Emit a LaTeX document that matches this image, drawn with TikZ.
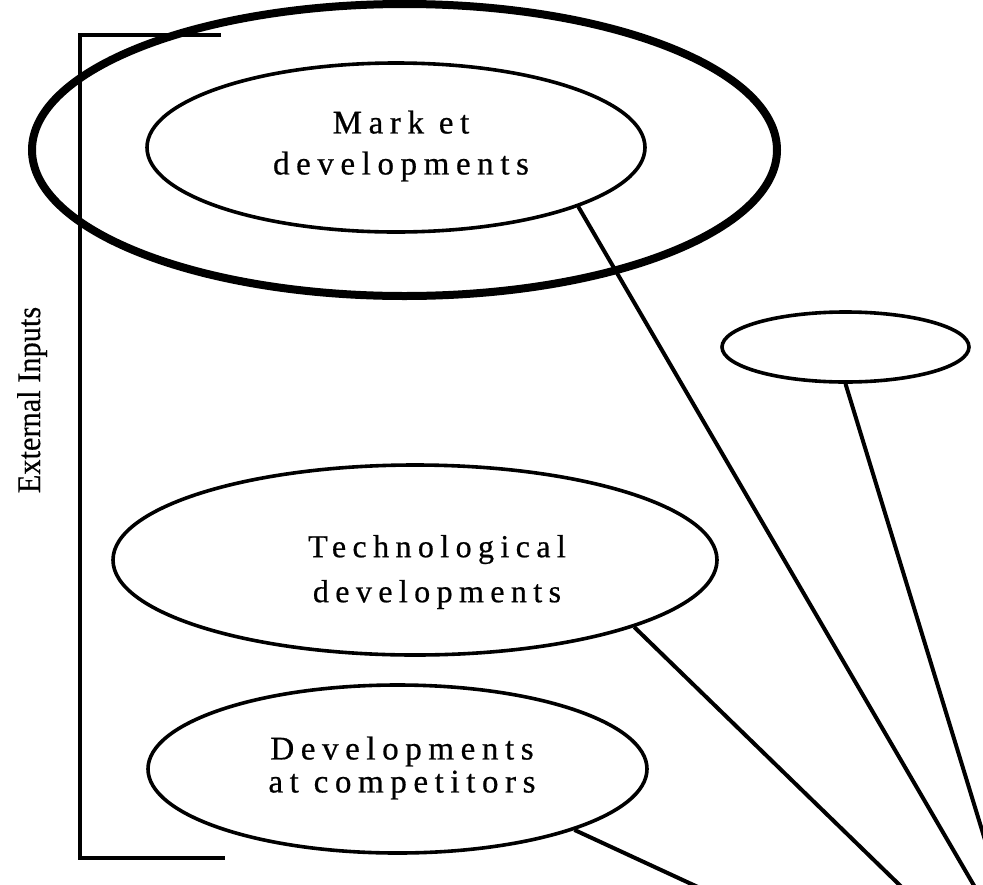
\documentclass[tikz,border=0pt]{standalone}
\usepackage{fontspec}
\setmainfont{Liberation Serif}
\newfontfamily\spaced[LetterSpace=20,FakeBold=0.6]{Liberation Serif}
\newfontfamily\plainser[FakeBold=0.4]{Liberation Serif}
\usetikzlibrary{shapes.geometric}
\begin{document}
\begin{tikzpicture}[x=1pt,y=-1pt,
  bubble/.style={draw, ellipse, inner sep=0pt, line width=3.6pt},
  bigbubble/.style={draw, ellipse, inner sep=0pt, line width=8pt},
  lab/.style={align=center, inner sep=0pt},
  link/.style={line width=4pt},
  frame/.style={line width=3.6pt}]
\useasboundingbox (0,0) rectangle (983,884);
% bracket
\coordinate (bt) at (221,35);
\coordinate (btl) at (80,35);
\coordinate (bbl) at (80,858);
\coordinate (bb) at (225,858);
\draw[frame] (bt) -- (btl) -- (bbl) -- (bb);
\node[rotate=90, anchor=base, font=\plainser\fontsize{33}{36}\selectfont, xscale=0.92] (ext) at (40,400) {External Inputs};
% ellipses
\node[bigbubble, minimum width=745pt, minimum height=292pt] (outer) at (404.5,150) {};
\node[bubble, minimum width=498pt, minimum height=169pt] (mkt) at (396,147.5) {};
\node[lab, font={\spaced\fontsize{33}{41}\selectfont}] (mkttext) at (401,146) {Mark et\\developments};
\node[bubble, minimum width=247pt, minimum height=70pt] (small) at (845.5,347) {};
\node[bubble, minimum width=604pt, minimum height=190pt] (tech) at (415,560) {};
\node[lab, font={\spaced\fontsize{32}{45}\selectfont}] (techtext) at (437,572) {Technological\\developments};
\node[bubble, minimum width=499pt, minimum height=168pt] (comp) at (397.5,769) {};
\node[lab, font={\spaced\fontsize{33}{33}\selectfont}] (comptext) at (402,768) {Developments\\at competitors};
% connectors
\coordinate (mktend) at (983,901);
\coordinate (smallend) at (1000,889);
\coordinate (techend) at (915,900);
\coordinate (compend) at (726,900);
\draw[link] (mkt.-18.2) -- (mktend);
\draw[link] (small.south) -- (smallend);
\draw[link] (tech.-17.9) -- (techend);
\draw[link] (comp.-19.7) -- (compend);
\end{tikzpicture}
\end{document}
